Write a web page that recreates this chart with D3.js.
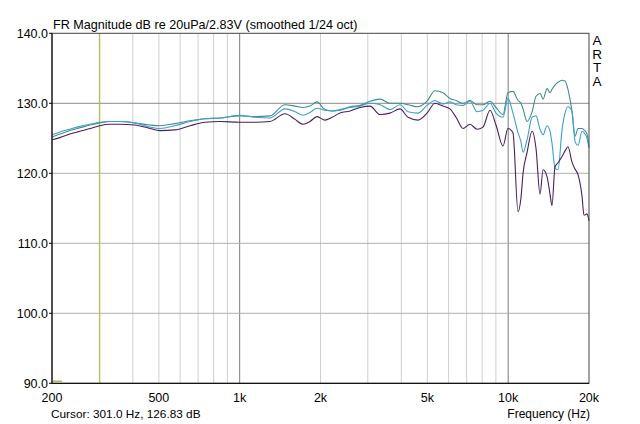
<!DOCTYPE html>
<html><head><meta charset="utf-8">
<script src="https://cdn.jsdelivr.net/npm/d3@7"></script>
<style>body{margin:0;background:#fff}svg{display:block}text{font-family:"Liberation Sans",Arial,sans-serif;fill:#000}</style>
</head><body><svg id="c" width="640" height="424"></svg>
<script>
const freqs = [200,214,233,254,277,301,329,358,407,463,505,574,653,743,845,1002,1140,1297,1475,1608,1721,1828,1941,2079,2208,2364,2577,2807,3058,3332,3630,3955,4237,4615,4986,5337,5716,6071,6396,6790,7210,7656,8058,8557,9009,9566,9980,10420,10880,11160,11360,11760,12280,12700,13140,13490,13960,14320,14560,14940,15330,15870,16280,16700,17290,17740,18200,18840,19160,19660,20000];
const seriesTeal = [125.2,125.6,126.1,126.5,126.9,127.2,127.4,127.4,127.2,126.9,126.8,127.1,127.5,127.8,127.9,128.2,128.1,128.2,129.8,129.6,129.4,129.6,130.2,129.1,128.9,129.0,129.5,129.7,130.3,130.6,130.0,130.0,129.8,129.5,130.3,131.8,131.5,130.7,130.4,130.0,130.4,129.8,129.8,130.3,129.4,128.4,131.5,131.7,130.4,130.0,129.2,127.4,128.8,131.0,131.4,130.6,132.1,131.5,132.0,132.6,133.0,133.3,133.2,132.0,128.8,125.3,126.4,126.4,126.2,125.6,123.8];
const seriesBlue = [125.5,125.9,126.3,126.7,127.0,127.3,127.4,127.4,127.2,126.6,126.4,126.8,127.4,127.8,127.9,128.3,128.0,127.9,129.2,128.8,128.3,128.7,129.3,129.0,128.9,129.1,129.4,129.6,130.0,129.8,129.1,129.8,128.8,128.6,129.7,130.4,129.9,130.2,129.8,129.7,130.3,128.8,129.0,130.0,128.6,128.0,130.7,128.6,125.8,124.5,123.0,124.8,128.0,128.2,126.3,125.5,126.8,126.0,124.3,120.8,120.5,126.2,128.6,129.5,128.8,124.6,124.0,126.0,125.8,125.0,123.6];
const seriesPurple = [124.8,125.1,125.6,126.0,126.4,126.8,127.0,127.0,126.9,126.4,126.1,126.2,126.8,127.3,127.4,127.3,127.3,127.4,128.5,127.7,127.0,127.4,128.1,127.6,128.0,128.6,128.9,129.4,129.6,128.4,128.6,129.2,128.0,127.6,128.6,130.0,129.6,129.2,128.0,126.4,127.0,126.3,126.6,129.0,126.9,123.9,126.4,125.8,114.5,116.5,120.0,123.0,126.0,123.5,117.0,120.5,119.5,117.0,115.4,120.9,121.5,122.4,123.2,123.8,121.6,120.6,119.8,116.7,114.0,114.2,113.2];
const xTicks = [200,500,1000,2000,5000,10000,20000];
const xTickLabels = ["200","500","1k","2k","5k","10k","20k"];
const yTicks = [90,100,110,120,130,140];
const minorGrid = [300,400,500,600,700,800,900,2000,3000,4000,5000,6000,7000,8000,9000];
const majorGrid = [1000,10000];
const cursorFreq = 301.0, cursorDb = 126.83;
const title = "FR Magnitude dB re 20uPa/2.83V (smoothed 1/24 oct)";

const svg = d3.select("#c");
const L=52, R=589, T=33.3, B=383.3;
const x = d3.scaleLog().domain([200,20000]).range([L,R]);
const y = d3.scaleLinear().domain([90,140]).range([B,T]);

// grid
svg.selectAll(".gm").data(minorGrid).join("line")
  .attr("x1",d=>x(d)).attr("x2",d=>x(d)).attr("y1",T).attr("y2",B)
  .attr("stroke","#cfcfcf").attr("stroke-width",1);
svg.selectAll(".gM").data(majorGrid).join("line")
  .attr("x1",d=>x(d)).attr("x2",d=>x(d)).attr("y1",T).attr("y2",B)
  .attr("stroke","#7a7a7a").attr("stroke-width",1);
svg.selectAll(".gy").data(yTicks.slice(1,-1)).join("line")
  .attr("x1",L).attr("x2",R).attr("y1",d=>y(d)).attr("y2",d=>y(d))
  .attr("stroke",d=>d===130?"#8a8a8a":"#b0b0b0").attr("stroke-width",1);

// cursor
svg.append("line").attr("x1",x(cursorFreq)).attr("x2",x(cursorFreq)).attr("y1",T).attr("y2",B)
  .attr("stroke","#c2b35a").attr("stroke-width",1.2);
svg.append("line").attr("x1",L).attr("x2",L+10).attr("y1",y(90.3)).attr("y2",y(90.3))
  .attr("stroke","#c2b35a").attr("stroke-width",1.5);

// curves
const line = d3.line().x((d,i)=>x(freqs[i])).y(d=>y(d)).curve(d3.curveMonotoneX);
[[seriesTeal,"#3f8e8b"],[seriesBlue,"#3c9fd0"],[seriesPurple,"#4a1f5e"]].forEach(([s,c])=>{
  svg.append("path").attr("d",line(s)).attr("fill","none").attr("stroke",c).attr("stroke-width",1.1);
});

// frame
svg.append("rect").attr("x",L).attr("y",T).attr("width",R-L).attr("height",B-T)
  .attr("fill","none").attr("stroke","#444").attr("stroke-width",1);
svg.append("line").attr("x1",L).attr("x2",L).attr("y1",T).attr("y2",B).attr("stroke","#000");
svg.append("line").attr("x1",L).attr("x2",R).attr("y1",B).attr("y2",B).attr("stroke","#000");

// axes labels
svg.selectAll(".yl").data(yTicks).join("text")
  .attr("x",48).attr("y",d=>y(d)+4.5).attr("text-anchor","end").attr("font-size",12.5)
  .text(d=>d.toFixed(1));
svg.selectAll(".yt").data(yTicks).join("line")
  .attr("x1",L-3).attr("x2",L).attr("y1",d=>y(d)).attr("y2",d=>y(d)).attr("stroke","#000");
svg.selectAll(".xl").data(xTicks).join("text")
  .attr("x",d=>x(d)).attr("y",402).attr("text-anchor","middle").attr("font-size",12.5)
  .text((d,i)=>xTickLabels[i]);

svg.append("text").attr("x",53).attr("y",29).attr("font-size",12.6).text(title);
["A","R","T","A"].forEach((ch,i)=>{
  svg.append("text").attr("x",597).attr("y",45+i*13.6).attr("text-anchor","middle").attr("font-size",13.5).text(ch);
});
svg.append("text").attr("x",51).attr("y",418).attr("font-size",11.8)
  .text(`Cursor: ${cursorFreq.toFixed(1)} Hz, ${cursorDb.toFixed(2)} dB`);
svg.append("text").attr("x",590).attr("y",418).attr("text-anchor","end").attr("font-size",12).text("Frequency (Hz)");
</script></body></html>
